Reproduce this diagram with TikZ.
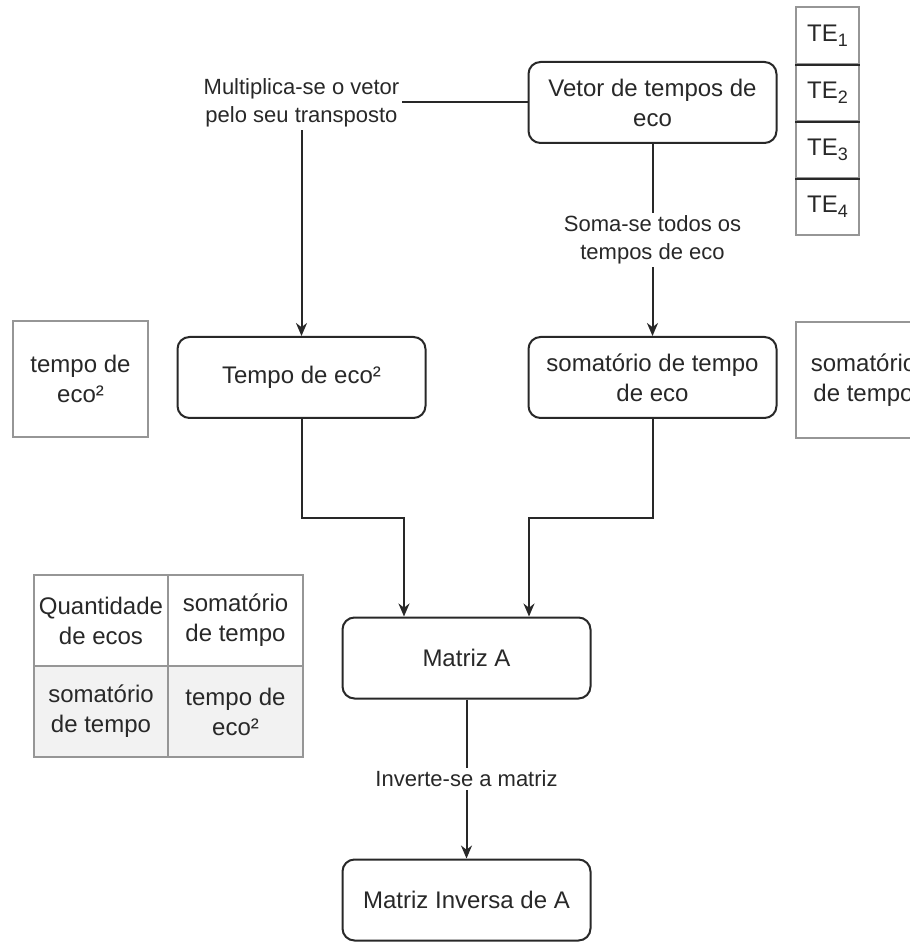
\documentclass[tikz,border=0pt]{standalone}
\usepackage{fontspec}
\setmainfont{Liberation Sans}
\usepackage{tikz}
\usetikzlibrary{arrows.meta}
\usetikzlibrary{calc}
\definecolor{boxgray}{RGB}{150,150,150}
\definecolor{rowgray}{RGB}{242,242,242}
\definecolor{inkgray}{RGB}{40,40,40}

\tikzset{
  box/.style={draw=inkgray, line width=1pt, rounded corners=6pt, fill=white,
    minimum width=124pt, minimum height=40.5pt, inner sep=0pt, align=center,
    text=inkgray, font=\fontsize{12}{15}\selectfont},
  sidebox/.style={draw=boxgray, line width=1pt, minimum width=67.5pt,
    minimum height=58pt, inner sep=0pt, align=center, text=inkgray,
    font=\fontsize{12}{15}\selectfont},
  tabcell/.style={draw=boxgray, line width=1pt, minimum width=67.25pt,
    minimum height=45.5pt, inner sep=0pt, align=center, text=inkgray,
    font=\fontsize{12}{15}\selectfont},
  tecell/.style={draw=boxgray, line width=1pt, minimum width=31.5pt,
    minimum height=28.5pt, inner sep=0pt, text=inkgray,
    font=\fontsize{12}{15}\selectfont},
  lbl/.style={fill=white, align=center, inner sep=1.5pt, text=inkgray,
    font=\fontsize{11}{14}\selectfont},
  flow/.style={draw=inkgray, line width=1pt, -{Stealth[length=6.5pt,width=5.5pt]}}
}
\newcommand{\tesub}[1]{\raisebox{-2.5pt}{\fontsize{9}{9}\selectfont #1}}

\begin{document}
\begin{tikzpicture}[x=0.5pt,y=-0.5pt]

  % Page
  \fill[white] (0,0) rectangle (909,945);
  \useasboundingbox (0,0) rectangle (909,945);

  % Echo time vector
  \foreach \i in {1,...,4}
    \node[tecell] (te\i) at (827.5,{-21.5+57*\i}) {TE\tesub{\i}};
  \foreach \i in {1,2,3}
    \draw[inkgray, line width=1pt] (te\i.south west) -- (te\i.south east);

  % Steps
  \node[box] (vetor) at (652.5,102.5) {Vetor de tempos de\\eco};
  \node[box] (quad) at (301.5,377.5) {Tempo de eco²};
  \node[box] (soma) at (652.5,377.5) {somatório de tempo\\de eco};
  \node[box] (matA) at (466.5,658) {Matriz A};
  \node[box] (inv) at (466.5,900) {Matriz Inversa de A};

  % Side notes
  \node[sidebox] (quadnote) at (80.5,379) {tempo de\\eco²};
  \node[sidebox] (somanote) at (863.5,380) {somatório\\de tempo};

  % Matrix A entries
  \node[tabcell] (a11) at (101,620.5) {Quantidade\\de ecos};
  \node[tabcell] (a12) at (235.5,620.5) {somatório\\de tempo};
  \node[tabcell, fill=rowgray] (a21) at (101,711.5) {somatório\\de tempo};
  \node[tabcell, fill=rowgray] (a22) at (235.5,711.5) {tempo de\\eco²};

  % Entry points on Matriz A
  \coordinate (inL) at ($(matA.north west)!.25!(matA.north east)$);
  \coordinate (inR) at ($(matA.north west)!.75!(matA.north east)$);

  % Connectors
  \draw[flow] (vetor.west) -| node[lbl] {Multiplica-se o vetor\\pelo seu transposto} (quad.north);
  \draw[flow] (vetor) -- node[lbl] {Soma-se todos os\\tempos de eco} (soma);
  \draw[flow] (quad.south) -- ++(0,99) -| (inL);
  \draw[flow] (soma.south) -- ++(0,99) -| (inR);
  \draw[flow] (matA) -- node[lbl] {Inverte-se a matriz} (inv);

\end{tikzpicture}
\end{document}
